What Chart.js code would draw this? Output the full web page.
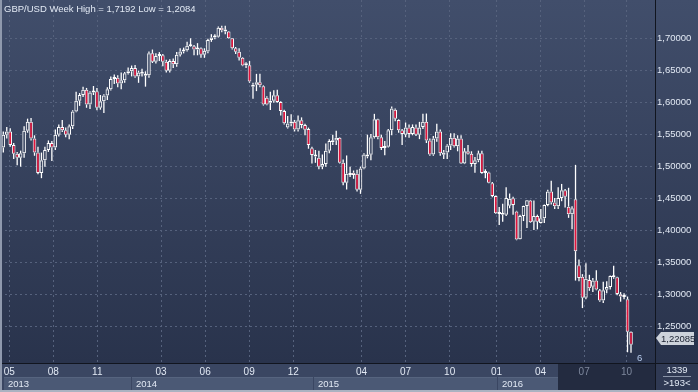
<!DOCTYPE html>
<html>
<head>
<meta charset="utf-8">
<script src="https://cdn.jsdelivr.net/npm/chart.js@4.4.1/dist/chart.umd.min.js"></script>
<style>
  html, body { margin: 0; padding: 0; background: #2b354f; }
  #wrap { width: 698px; height: 392px; }
</style>
</head>
<body>
<div id="wrap"><canvas id="candle-chart" width="698" height="392"></canvas></div>
<script>
// GBP/USD weekly candles, week 0 = 22 Apr 2013, last = 10 Oct 2016
const open = [
  1.5290, 1.5490, 1.5540, 1.5330, 1.5190, 1.5130, 1.5200, 1.5550, 1.5690, 1.5430,
  1.5210, 1.4890, 1.5090, 1.5250, 1.5360, 1.5290, 1.5490, 1.5610, 1.5560, 1.5490,
  1.5620, 1.5850, 1.6020, 1.6110, 1.6190, 1.5960, 1.6150, 1.6170, 1.5910, 1.6010,
  1.6100, 1.6200, 1.6360, 1.6380, 1.6290, 1.6340, 1.6450, 1.6480, 1.6530, 1.6400,
  1.6470, 1.6410, 1.6420, 1.6760, 1.6630, 1.6720, 1.6730, 1.6630, 1.6490, 1.6640,
  1.6590, 1.6740, 1.6790, 1.6810, 1.6880, 1.6870, 1.6820, 1.6840, 1.6740, 1.6790,
  1.6970, 1.7010, 1.7020, 1.7160, 1.7100, 1.7100, 1.6995, 1.6840, 1.6785, 1.6690,
  1.6600, 1.6575, 1.6240, 1.6270, 1.6310, 1.6245, 1.6065, 1.5990, 1.6020, 1.6105,
  1.6000, 1.5860, 1.5600, 1.5665, 1.5690, 1.5570, 1.5715, 1.5640, 1.5578, 1.5276,
  1.5172, 1.5130, 1.4990, 1.5030, 1.5240, 1.5370, 1.5400, 1.5440, 1.5050, 1.4740,
  1.4880, 1.4895, 1.4880, 1.4630, 1.4960, 1.5150, 1.5175, 1.5450, 1.5730, 1.5450,
  1.5280, 1.5300, 1.5560, 1.5880, 1.5720, 1.5560, 1.5490, 1.5600, 1.5500, 1.5600,
  1.5490, 1.5610, 1.5690, 1.5400, 1.5180, 1.5430, 1.5540, 1.5175, 1.5210, 1.5320,
  1.5440, 1.5310, 1.5430, 1.5040, 1.5230, 1.5190, 1.5030, 1.5090, 1.5200, 1.4890,
  1.4900, 1.4730, 1.4530, 1.4260, 1.4260, 1.4240, 1.4380, 1.4495, 1.4290, 1.3855,
  1.4220, 1.4375, 1.4460, 1.4130, 1.4220, 1.4110, 1.4185, 1.4390, 1.4600, 1.4430,
  1.4370, 1.4500, 1.4620, 1.4365, 1.4245, 1.4480, 1.3450, 1.3270, 1.2940, 1.3220,
  1.3115, 1.3210, 1.3060, 1.2900, 1.3065, 1.3110, 1.3280, 1.3260, 1.2995, 1.2955,
  1.2920, 1.2410
];
const high = [
  1.5540, 1.5610, 1.5590, 1.5360, 1.5220, 1.5240, 1.5620, 1.5740, 1.5750, 1.5480,
  1.5300, 1.5210, 1.5300, 1.5400, 1.5390, 1.5570, 1.5650, 1.5720, 1.5600, 1.5650,
  1.5870, 1.6160, 1.6140, 1.6240, 1.6220, 1.6170, 1.6250, 1.6220, 1.6110, 1.6120,
  1.6230, 1.6400, 1.6430, 1.6420, 1.6460, 1.6470, 1.6540, 1.6570, 1.6580, 1.6490,
  1.6520, 1.6480, 1.6790, 1.6820, 1.6760, 1.6780, 1.6750, 1.6660, 1.6670, 1.6680,
  1.6780, 1.6840, 1.6850, 1.6940, 1.6996, 1.6890, 1.6920, 1.6850, 1.6840, 1.6990,
  1.7060, 1.7060, 1.7180, 1.7190, 1.7192, 1.7110, 1.7000, 1.6860, 1.6840, 1.6700,
  1.6620, 1.6640, 1.6300, 1.6440, 1.6440, 1.6260, 1.6090, 1.6160, 1.6185, 1.6190,
  1.6010, 1.5880, 1.5780, 1.5810, 1.5720, 1.5790, 1.5760, 1.5660, 1.5600, 1.5300,
  1.5250, 1.5240, 1.5180, 1.5350, 1.5420, 1.5490, 1.5550, 1.5450, 1.5100, 1.5165,
  1.4990, 1.4930, 1.4940, 1.4990, 1.5200, 1.5490, 1.5500, 1.5815, 1.5740, 1.5490,
  1.5390, 1.5580, 1.5930, 1.5900, 1.5730, 1.5580, 1.5680, 1.5650, 1.5650, 1.5650,
  1.5690, 1.5815, 1.5820, 1.5430, 1.5470, 1.5660, 1.5570, 1.5250, 1.5340, 1.5510,
  1.5510, 1.5480, 1.5480, 1.5280, 1.5330, 1.5230, 1.5140, 1.5240, 1.5240, 1.4950,
  1.4910, 1.4750, 1.4540, 1.4360, 1.4410, 1.4670, 1.4570, 1.4520, 1.4300, 1.4240,
  1.4380, 1.4470, 1.4470, 1.4460, 1.4240, 1.4330, 1.4400, 1.4630, 1.4770, 1.4500,
  1.4670, 1.4720, 1.4640, 1.4660, 1.4370, 1.5018, 1.3540, 1.3310, 1.3480, 1.3300,
  1.3250, 1.3370, 1.3080, 1.3190, 1.3200, 1.3290, 1.3440, 1.3270, 1.3030, 1.3010,
  1.2960, 1.2420
];
const low = [
  1.5210, 1.5430, 1.5300, 1.5110, 1.5010, 1.4990, 1.5130, 1.5520, 1.5400, 1.5160,
  1.4870, 1.4810, 1.4990, 1.5220, 1.5080, 1.5250, 1.5460, 1.5530, 1.5450, 1.5420,
  1.5580, 1.5840, 1.5940, 1.6080, 1.5910, 1.5890, 1.6110, 1.5870, 1.5880, 1.5830,
  1.6030, 1.6180, 1.6280, 1.6230, 1.6200, 1.6300, 1.6430, 1.6400, 1.6380, 1.6300,
  1.6400, 1.6240, 1.6380, 1.6610, 1.6600, 1.6640, 1.6560, 1.6460, 1.6460, 1.6530,
  1.6550, 1.6710, 1.6760, 1.6790, 1.6860, 1.6730, 1.6730, 1.6690, 1.6690, 1.6760,
  1.6940, 1.6980, 1.7010, 1.7090, 1.7060, 1.6990, 1.6820, 1.6750, 1.6650, 1.6560,
  1.6530, 1.6300, 1.6052, 1.6170, 1.6230, 1.5945, 1.5950, 1.5875, 1.5990, 1.5990,
  1.5790, 1.5650, 1.5585, 1.5620, 1.5540, 1.5540, 1.5590, 1.5480, 1.5270, 1.5040,
  1.5050, 1.4950, 1.4950, 1.4990, 1.5200, 1.5330, 1.5330, 1.5040, 1.4700, 1.4633,
  1.4830, 1.4800, 1.4600, 1.4565, 1.4950, 1.5120, 1.5090, 1.5430, 1.5420, 1.5250,
  1.5170, 1.5290, 1.5480, 1.5700, 1.5520, 1.5330, 1.5450, 1.5440, 1.5480, 1.5470,
  1.5420, 1.5580, 1.5360, 1.5160, 1.5160, 1.5380, 1.5160, 1.5110, 1.5110, 1.5250,
  1.5290, 1.5230, 1.5030, 1.5030, 1.5180, 1.4990, 1.4895, 1.5060, 1.4880, 1.4810,
  1.4730, 1.4510, 1.4250, 1.4080, 1.4130, 1.4220, 1.4340, 1.4240, 1.3840, 1.3850,
  1.4140, 1.4030, 1.4110, 1.4000, 1.4010, 1.4100, 1.4110, 1.4370, 1.4400, 1.4330,
  1.4330, 1.4450, 1.4350, 1.4190, 1.4010, 1.3210, 1.3200, 1.2780, 1.2920, 1.3050,
  1.3030, 1.3060, 1.2880, 1.2860, 1.3010, 1.3070, 1.3240, 1.2980, 1.2880, 1.2920,
  1.2090, 1.2084
];
const close = [
  1.5490, 1.5540, 1.5330, 1.5190, 1.5130, 1.5200, 1.5550, 1.5690, 1.5430, 1.5210,
  1.4890, 1.5090, 1.5250, 1.5360, 1.5290, 1.5490, 1.5610, 1.5560, 1.5490, 1.5620,
  1.5850, 1.6020, 1.6110, 1.6190, 1.5960, 1.6150, 1.6170, 1.5910, 1.6010, 1.6100,
  1.6200, 1.6360, 1.6380, 1.6290, 1.6340, 1.6450, 1.6480, 1.6530, 1.6400, 1.6460,
  1.6440, 1.6420, 1.6760, 1.6630, 1.6720, 1.6730, 1.6630, 1.6490, 1.6640, 1.6590,
  1.6740, 1.6790, 1.6810, 1.6880, 1.6870, 1.6820, 1.6840, 1.6740, 1.6800, 1.6970,
  1.7010, 1.7020, 1.7160, 1.7120, 1.7130, 1.6995, 1.6840, 1.6785, 1.6690, 1.6570,
  1.6575, 1.6320, 1.6270, 1.6310, 1.6260, 1.5960, 1.5960, 1.6020, 1.6105, 1.6000,
  1.5860, 1.5670, 1.5665, 1.5690, 1.5570, 1.5715, 1.5640, 1.5565, 1.5330, 1.5172,
  1.5150, 1.4990, 1.5030, 1.5240, 1.5390, 1.5400, 1.5440, 1.5050, 1.4740, 1.4880,
  1.4860, 1.4860, 1.4630, 1.4960, 1.5180, 1.5175, 1.5450, 1.5730, 1.5450, 1.5280,
  1.5300, 1.5560, 1.5900, 1.5740, 1.5560, 1.5500, 1.5600, 1.5500, 1.5610, 1.5490,
  1.5600, 1.5690, 1.5400, 1.5180, 1.5430, 1.5540, 1.5200, 1.5210, 1.5320, 1.5440,
  1.5310, 1.5430, 1.5040, 1.5230, 1.5190, 1.5030, 1.5090, 1.5200, 1.4890, 1.4900,
  1.4740, 1.4530, 1.4260, 1.4250, 1.4240, 1.4500, 1.4490, 1.4390, 1.3850, 1.4220,
  1.4375, 1.4465, 1.4120, 1.4220, 1.4130, 1.4185, 1.4390, 1.4600, 1.4430, 1.4370,
  1.4500, 1.4620, 1.4520, 1.4245, 1.4340, 1.3670, 1.3250, 1.2940, 1.3240, 1.3090,
  1.3210, 1.3070, 1.2900, 1.3060, 1.3110, 1.3280, 1.3260, 1.3000, 1.2960, 1.2975,
  1.2410, 1.22085
];

// month gridlines (week index) and their labels
const monthTicks = [1.73, 14.42, 27.1, 45.5, 58.2, 70.9, 83.6, 103.3, 116.0, 128.7, 142.2, 154.9, 167.5, 179.7];
const monthLabels = ["05", "08", "11", "03", "06", "09", "12", "04", "07", "10", "01", "04", "07", "10"];
// year bands start at these week indexes
const yearStarts = [-0.1, 36.8, 89.3, 142.4];
const yearLabels = ["2013", "2014", "2015", "2016"];
const darkFrom = 159.9;
const priceTicks = [1.25, 1.30, 1.35, 1.40, 1.45, 1.50, 1.55, 1.60, 1.65, 1.70];

const FONT = '"Liberation Sans", Arial, sans-serif';
const TXT = "#e2e9f4";
const RED = "#e3143c";

const weeks = close.map((c, i) => i);
const bodyLow = open.map((o, i) => Math.min(o, close[i]));
const bodyHigh = open.map((o, i) => Math.max(o, close[i]));

const frame = {
  id: "frame",
  beforeDraw(chart) {
    const { ctx, width, height, chartArea: a, scales } = chart;
    const x = scales.x;
    ctx.save();
    const g = ctx.createLinearGradient(0, 0, 0, a.bottom);
    g.addColorStop(0, "#414e6b");
    g.addColorStop(1, "#29334c");
    ctx.fillStyle = g;
    ctx.fillRect(0, 0, width, a.bottom);
    // bottom date band
    ctx.fillStyle = "#3a4662";
    ctx.fillRect(0, a.bottom, a.right, height - a.bottom);
    const dark = Math.round(x.getPixelForValue(darkFrom));
    const edges = yearStarts.map(v => Math.max(3, Math.round(x.getPixelForValue(v))));
    edges.push(dark);
    for (let k = 0; k < yearLabels.length; k++) {
      ctx.fillStyle = "#4b5975";
      ctx.fillRect(edges[k] + 1, a.bottom + 14, edges[k + 1] - edges[k] - 1, 13);
      ctx.fillStyle = "#56647f";
      ctx.fillRect(edges[k] + 1, a.bottom + 14, edges[k + 1] - edges[k] - 1, 1);
    }
    ctx.fillStyle = "#232b40";
    ctx.fillRect(dark, a.bottom + 1, a.right - dark, height - a.bottom - 3);
    // corner box
    ctx.fillStyle = "#2f3953";
    ctx.fillRect(a.right, a.bottom, width - a.right, height - a.bottom);
    ctx.restore();
  },
  afterDraw(chart) {
    const { ctx, width, height, chartArea: a, scales } = chart;
    const x = scales.x, y = scales.y;
    ctx.save();
    // frame lines
    ctx.fillStyle = "#11151f";
    ctx.fillRect(a.right, 0, 1, height);
    ctx.fillRect(0, a.bottom, width, 1);
    ctx.fillStyle = "#8f99ad";
    ctx.fillRect(0, 0, 2, height);
    ctx.fillStyle = "#aab2c1";
    ctx.fillRect(0, height - 2, width, 2);

    ctx.font = "9.5px " + FONT;
    ctx.textBaseline = "alphabetic";
    ctx.textAlign = "left";
    ctx.fillStyle = TXT;
    ctx.fillText("GBP/USD Week High = 1,7192 Low = 1,2084", 4, 12);

    // year labels
    yearLabels.forEach((t, k) => {
      const px = Math.max(3, Math.round(x.getPixelForValue(yearStarts[k])));
      ctx.fillText(t, px + 5, a.bottom + 24);
    });

    // corner counters
    ctx.textAlign = "center";
    ctx.fillText("1339", 677, 373);
    ctx.fillText(">193<", 677, 386);
    ctx.fillStyle = "#8a94a8";
    ctx.fillRect(663, 376, 28, 1);

    // small "6" marker by the last candle
    ctx.textAlign = "left";
    ctx.fillStyle = "#b9cdee";
    ctx.fillText("6", 637, 361);

    // last price tag
    const last = close[close.length - 1];
    const ty = Math.round(y.getPixelForValue(last)) - 7;
    ctx.fillStyle = "#cdd2da";
    ctx.beginPath();
    ctx.moveTo(a.right + 1, ty);
    ctx.lineTo(a.right + 6, ty - 6);
    ctx.lineTo(a.right + 39, ty - 6);
    ctx.lineTo(a.right + 39, ty + 7);
    ctx.lineTo(a.right + 6, ty + 7);
    ctx.closePath();
    ctx.fill();
    ctx.fillStyle = "#1a2030";
    ctx.textBaseline = "middle";
    ctx.fillText(last.toFixed(5).replace(".", ","), a.right + 6, ty + 1);
    ctx.restore();
  }
};

new Chart(document.getElementById("candle-chart"), {
  type: "bar",
  data: {
    datasets: [
      {
        label: "upper wick",
        data: weeks.map(i => ({ x: i, y: [bodyHigh[i], high[i]] })),
        backgroundColor: "#ffffff",
        barThickness: 1.3,
        inflateAmount: 0,
        grouped: false,
      },
      {
        label: "lower wick",
        data: weeks.map(i => ({ x: i, y: [low[i], bodyLow[i]] })),
        backgroundColor: "#ffffff",
        barThickness: 1.3,
        inflateAmount: 0,
        grouped: false,
      },
      {
        label: "body",
        data: weeks.map(i => ({ x: i, y: [bodyLow[i], bodyHigh[i]] })),
        backgroundColor: c => (close[c.dataIndex] < open[c.dataIndex] ? RED : "rgba(0,0,0,0)"),
        borderColor: "#ffffff",
        borderWidth: 1,
        borderSkipped: false,
        barThickness: 3.6,
        minBarLength: 2,
        inflateAmount: 0,
        grouped: false,
      },
    ],
  },
  options: {
    responsive: false,
    animation: false,
    devicePixelRatio: 1,
    layout: { padding: 0 },
    plugins: { legend: { display: false }, tooltip: { enabled: false } },
    scales: {
      x: {
        type: "linear",
        min: -0.952,
        max: 187.92,
        offset: false,
        afterBuildTicks: s => { s.ticks = monthTicks.map(v => ({ value: v })); },
        afterFit: s => { s.height = 29; s.paddingLeft = 0; s.paddingRight = 0; },
        grid: { color: "#56627d", drawTicks: false, offset: false },
        border: { display: false, dash: [2, 3] },
        ticks: {
          autoSkip: false,
          maxRotation: 0,
          padding: 3,
          font: { family: FONT, size: 10 },
          color: c => (c.tick && c.tick.value > darkFrom ? "#7e889d" : TXT),
          callback: (v, idx) => monthLabels[idx],
        },
      },
      y: {
        position: "right",
        min: 1.1922,
        max: 1.7594,
        afterBuildTicks: s => { s.ticks = priceTicks.map(v => ({ value: v })); },
        afterFit: s => { s.width = 43; s.paddingTop = 0; s.paddingBottom = 0; },
        grid: { color: "#56627d", drawTicks: false },
        border: { display: false, dash: [2, 3] },
        ticks: {
          padding: 2,
          font: { family: FONT, size: 9.5 },
          color: TXT,
          callback: v => v.toFixed(5).replace(".", ","),
        },
      },
    },
  },
  plugins: [frame],
});
</script>
</body>
</html>
